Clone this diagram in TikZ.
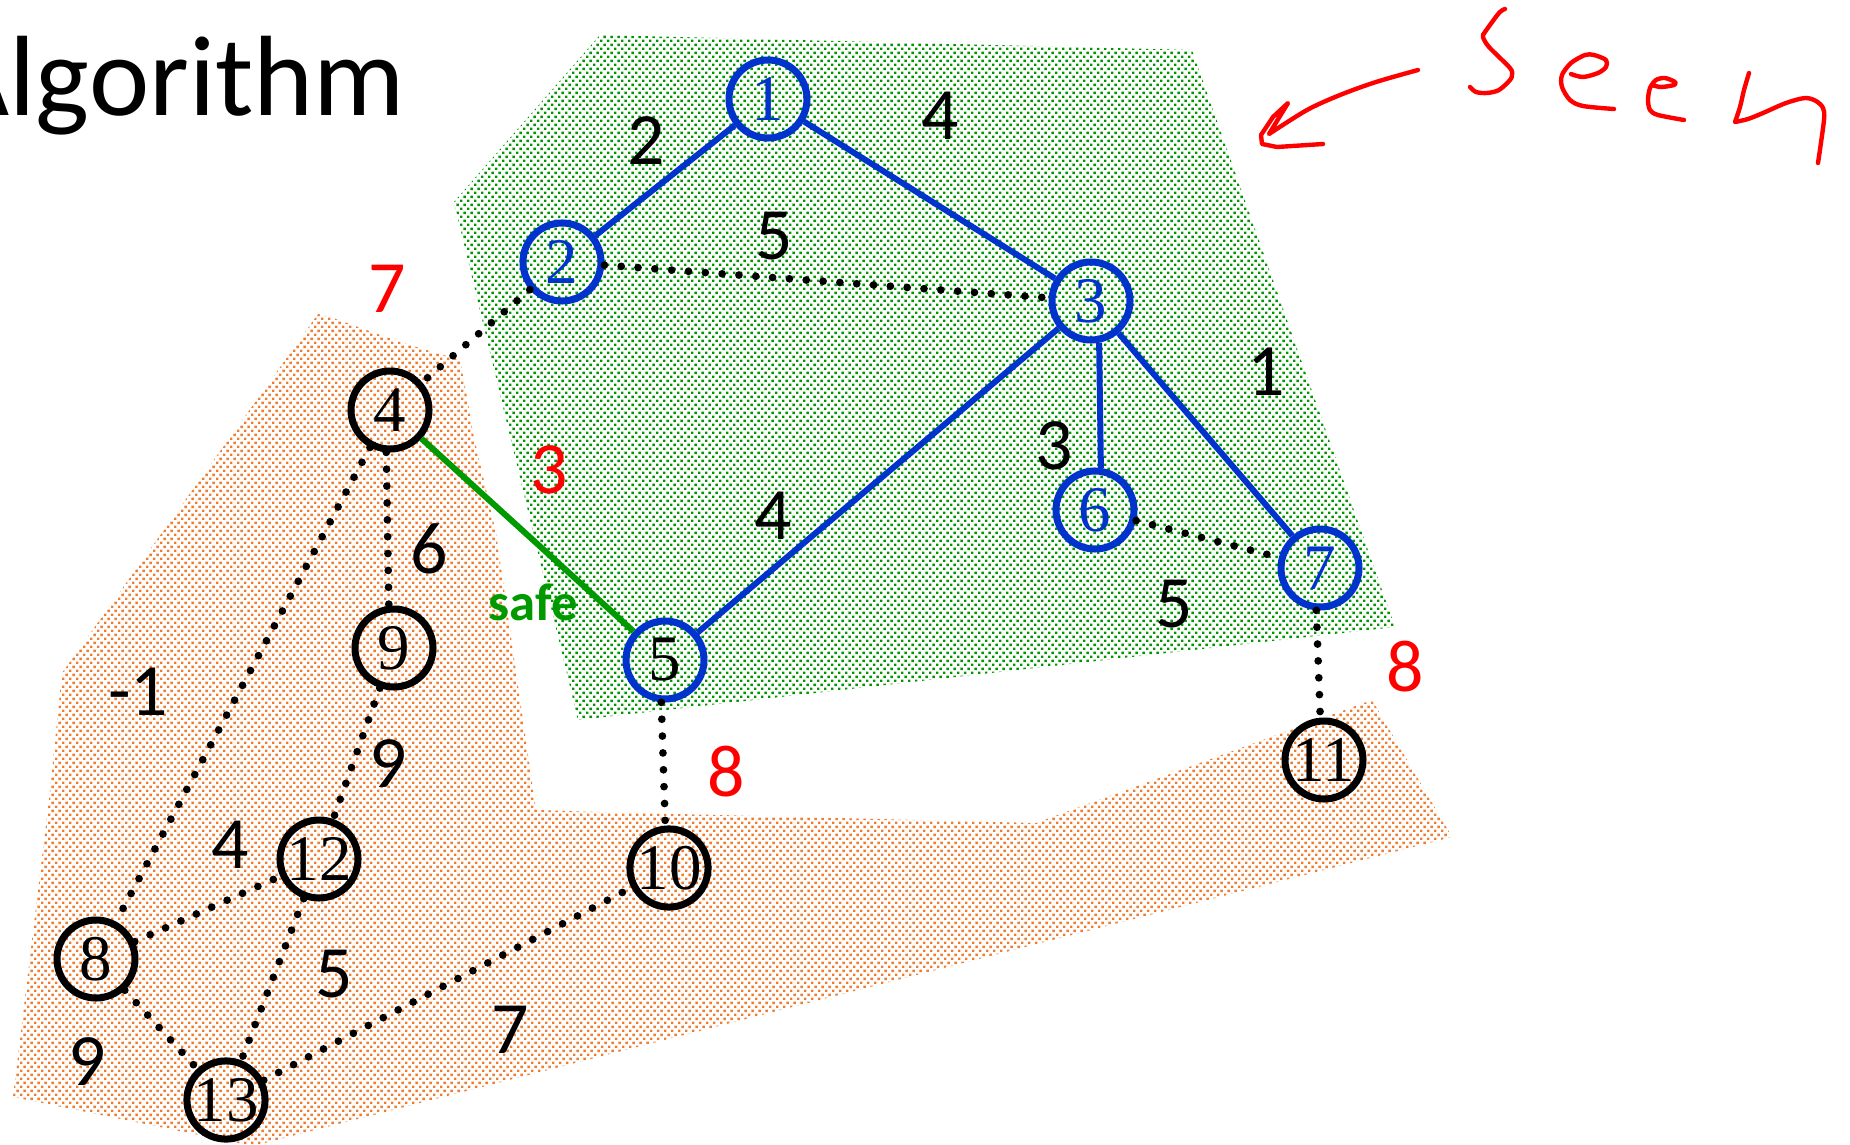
\documentclass[tikz,border=0pt]{standalone}
\usepackage{fontspec}
\setmainfont{Carlito}
\newfontfamily\vtxfont{Liberation Serif}
\usetikzlibrary{patterns.meta}

\definecolor{treeblue}{RGB}{0,51,204}
\definecolor{safegreen}{RGB}{0,153,0}
\definecolor{dotgreen}{RGB}{0,150,0}
\definecolor{dotorange}{RGB}{237,125,49}
\definecolor{hotred}{RGB}{255,0,0}

% staggered grid of small square dots used to shade the two vertex sets
\pgfdeclarepattern{
  name=stagdots,
  type=uncolored,
  bottom left={\pgfpoint{0pt}{0pt}},
  top right={\pgfpoint{3.97pt}{4.54pt}},
  tile size={\pgfpoint{3.97pt}{4.54pt}},
  code={
    \pgfpathrectangle{\pgfpoint{0pt}{0pt}}{\pgfpoint{1.35pt}{1.35pt}}
    \pgfpathrectangle{\pgfpoint{1.985pt}{2.27pt}}{\pgfpoint{1.35pt}{1.35pt}}
    \pgfusepath{fill}
  }
}

\tikzset{
  vtx/.style={circle, draw=black, line width=4pt, minimum size=1.56cm,
    inner sep=0pt, text=black, font=\vtxfont\fontsize{37}{37}\selectfont},
  seenvtx/.style={vtx, draw=treeblue, text=treeblue},
  wt/.style={inner sep=0pt, font=\fontsize{42}{42}\selectfont},
  redwt/.style={wt, text=hotred},
  treeedge/.style={treeblue, line width=3.4pt},
  safeedge/.style={safegreen, line width=3.4pt},
  dotedge/.style={black, line width=4.4pt, line cap=round, dash pattern=on 0pt off 9.6pt},
  ink/.style={hotred, line width=2.5pt, line cap=round, line join=round}
}

\begin{document}
\begin{tikzpicture}[x=0.02cm, y=-0.02cm]
\useasboundingbox (0,0) rectangle (1850,1144);
\clip (0,0) rectangle (1850,1144);

% shaded regions
\fill[pattern=stagdots, pattern color=dotorange]
  (318,314) -- (333,318) -- (400,342) -- (460,360) -- (467,397) -- (473,433)
  -- (496,533) -- (536,810) -- (600,812) -- (1036,823) -- (1372,700)
  -- (1452,837) -- (253,1146) -- (13,1097) -- (49,800) -- (62,673) -- cycle;
\fill[pattern=stagdots, pattern color=dotgreen]
  (600,35) -- (1192,50) -- (1395,627) -- (578,720) -- (454,202) -- cycle;

% title
\node[anchor=base east, inner sep=0pt, font=\fontsize{65}{65}\selectfont]
  (title) at (405,115) {Algorithm};

% vertices
\node[seenvtx] (v1) at (768,99) {1};
\node[seenvtx] (v2) at (562,262) {2};
\node[seenvtx] (v3) at (1091,301) {3};
\node[vtx] (v4) at (390,410) {4};
\node[vtx, draw=treeblue] (v5) at (665,660) {5};
\node[seenvtx] (v6) at (1095,510) {6};
\node[seenvtx] (v7) at (1320,568) {7};
\node[vtx] (v8) at (96,959) {8};
\node[vtx] (v9) at (394,648) {9};
\node[vtx] (v10) at (669,868) {10};
\node[vtx] (v11) at (1324,760) {11};
\node[vtx] (v12) at (319,859) {12};
\node[vtx] (v13) at (226,1100) {13};

% tree edges
\draw[treeedge] (v1) -- (v2);
\draw[treeedge] (v1) -- (v3);
\draw[treeedge] (v3) -- (v5);
\draw[treeedge] (v3.-79) -- (v6.82);
\draw[treeedge] (v3) -- (v7);
\draw[safeedge] (v4) -- (v5);

% remaining edges
\draw[dotedge] (v2) -- (v3);
\draw[dotedge] (v2) -- (v4);
\draw[dotedge] (v4.-95) -- (v9.97);
\draw[dotedge] (v4) -- (v8);
\draw[dotedge] (v9) -- (v12);
\draw[dotedge] (v8) -- (v12);
\draw[dotedge] (v8) -- (v13);
\draw[dotedge] (v12) -- (v13);
\draw[dotedge] (v13) -- (v10);
\draw[dotedge] (v5.-95) -- (v10.95);
\draw[dotedge] (v6) -- (v7);
\draw[dotedge] (v7.-95) -- (v11.95);

% weights
\node[wt] (w12) at (646,141) {2};
\node[wt] (w13) at (940,116) {4};
\node[wt] (w23) at (774,236) {5};
\node[redwt] (w24) at (387,289) {7};
\node[wt] (w37) at (1266,372) {1};
\node[wt] (w36) at (1054,446) {3};
\node[redwt] (w45) at (549,470) {3};
\node[wt] (w35) at (773,516) {4};
\node[wt] (w49) at (429,549) {6};
\node[inner sep=0pt, text=safegreen, font=\bfseries\fontsize{30}{30}\selectfont]
  (safe) at (533,602) {safe};
\node[wt] (w67) at (1174,604) {5};
\node[redwt] (w711) at (1405,667) {8};
\node[wt] (w48) at (138,692) {-1};
\node[wt] (w912) at (388,764) {9};
\node[redwt] (w510) at (726,772) {8};
\node[wt] (w812) at (230,845) {4};
\node[wt] (w1213) at (334,974) {5};
\node[wt] (w1310) at (510,1030) {7};
\node[wt] (w813) at (87,1062) {9};

% handwritten note
\draw[ink] plot[smooth, tension=0.5] coordinates
  {(1418,70) (1376,82) (1340,95) (1307,110) (1269,134)}
  -- (1288,103) -- (1273,117) -- (1261,135) -- (1262,144) -- (1277,147) -- (1323,144);
\draw[ink] plot[smooth, tension=0.5] coordinates
  {(1505,9) (1499,13) (1485,32) (1483,37) (1489,47) (1510,68) (1512,75)
   (1510,80) (1499,90) (1487,93) (1476,92) (1470,87)};
\draw[ink] plot[smooth, tension=0.5] coordinates
  {(1571,74) (1583,77) (1598,73) (1606,67) (1606,60) (1594,55) (1585,55)
   (1571,63) (1562,75) (1562,87) (1570,100) (1583,106) (1614,109)};
\draw[ink] plot[smooth, tension=0.5] coordinates
  {(1652,85) (1661,87) (1674,85) (1675,82) (1665,78) (1656,80) (1650,88)
   (1648,100) (1650,110) (1658,115) (1684,120)};
\draw[ink] plot[smooth, tension=0.5] coordinates
  {(1749,73) (1744,90) (1740,107) (1735,122)}
  -- plot[smooth, tension=0.5] coordinates
  {(1735,122) (1748,119) (1763,113) (1786,103) (1805,98) (1816,101)
   (1823,108) (1824,120) (1818,163)};
\end{tikzpicture}
\end{document}
